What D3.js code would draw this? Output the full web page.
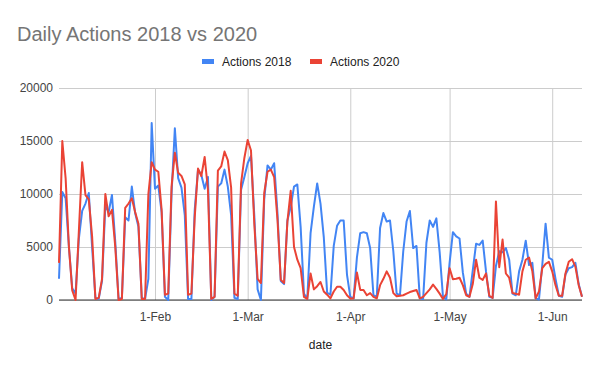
<!DOCTYPE html>
<html>
<head>
<meta charset="utf-8">
<script src="https://cdn.jsdelivr.net/npm/d3@7"></script>
<style>
  body { margin: 0; background: #fff; }
  svg text { font-family: "Liberation Sans", Arial, sans-serif; }
</style>
</head>
<body>
<div id="wrap"></div>
<script>
var startDay = new Date(Date.UTC(2018, 0, 3));
var endDay = new Date(Date.UTC(2018, 5, 11));
var dates = d3.utcDay.range(startDay, endDay);

var actions2018 = [
  2000, 10200, 9600, 5000, 1100, 600,
  5800, 8400, 9100, 10100, 5000, 200, 100,
  1800, 8900, 8300, 9900, 5500, 100, 200,
  7800, 7500, 10700, 8200, 6900, 200, 100,
  2000, 16700, 10500, 10800, 8300, 300, 0,
  10000, 16200, 11500, 10600, 8000, 100, 100,
  8500, 12300, 11800, 10500, 11600, 0, 300,
  10700, 11000, 12300, 10700, 8000, 200, 100,
  10400, 11600, 12900, 13600, 8000, 1000, 0,
  9500, 12700, 12300, 12900, 8200, 1800, 1500,
  7500, 8800, 10700, 10900, 6900, 600, 100,
  6300, 8800, 11000, 9100, 5900, 700, 500,
  5100, 7000, 7500, 7500, 2400, 300, 150,
  4000, 6300, 6400, 6300, 4900, 450, 300,
  6800, 8200, 7400, 7500, 4600, 600, 450,
  4600, 7400, 8400, 4900, 5100, 150, 100,
  5400, 7500, 6900, 7700, 4500, 300, 50,
  3500, 6400, 6000, 5800, 2600, 600, 300,
  2800, 5300, 5200, 5600, 2700, 300, 200,
  3200, 4600, 4500, 4900, 3800, 600, 450,
  2700, 3800, 5600, 3300, 3500, 150, 50,
  3300, 7200, 4000, 3800, 2000, 400, 300,
  2400, 3000, 3100, 3500, 1500, 300
];

var actions2020 = [
  3500, 15000, 11500, 5000, 900, 0,
  6500, 13000, 9900, 9500, 6000, 100, 200,
  2000, 10000, 7900, 8500, 5000, 0, 100,
  8700, 9100, 9600, 8300, 7200, 100, 100,
  10000, 13000, 12300, 12100, 8500, 500, 600,
  10700, 13900, 12000, 11700, 10900, 500, 600,
  7800, 12400, 11700, 13500, 10400, 100, 300,
  12200, 12600, 14000, 13200, 10600, 600, 400,
  11000, 13400, 15100, 14100, 7200, 2000, 1600,
  10100, 12100, 12300, 11600, 7600, 1900, 1600,
  7400, 10300, 5000, 3800, 3000, 300, 100,
  2500, 1000, 1300, 1700, 800, 500, 150,
  800, 1250, 1250, 950, 450, 150, 150,
  2600, 950, 950, 450, 650, 300, 150,
  1400, 2000, 2700, 2100, 650, 350, 400,
  450, 600, 750, 850, 950, 150, 300,
  650, 1000, 1450, 1050, 600, 100, 550,
  3000, 1950, 2000, 2100, 1400, 450, 300,
  1500, 3800, 2100, 1900, 2500, 400, 200,
  9300, 3100, 5700, 2500, 2100, 650, 600,
  500, 2700, 3800, 4000, 2700, 150, 800,
  3000, 3400, 3600, 2700, 1400, 400, 400,
  2500, 3600, 3850, 3150, 1400, 300
];

var seriesNames = ["Actions 2018", "Actions 2020"];
var seriesColors = ["#4285f4", "#ea4335"];
var yTicks = [0, 5000, 10000, 15000, 20000];

var width = 600, height = 371;
var plotLeft = 59, plotRight = 582, plotTop = 88, plotBottom = 300;

var svg = d3.select('#wrap')
  .append('svg')
  .attr("width", width)
  .attr("height", height);

var x = d3.scaleUtc()
  .domain([dates[0], dates[dates.length - 1]])
  .range([plotLeft, plotRight]);

var y = d3.scaleLinear()
  .domain([0, 20000])
  .range([plotBottom, plotTop]);

// horizontal grid + y labels
var yAxis = svg.append("g")
  .attr("transform", "translate(" + plotLeft + ",0)")
  .call(d3.axisLeft(y).tickValues(yTicks).tickSize(-(plotRight - plotLeft)).tickPadding(6).tickFormat(d3.format("d")));
yAxis.select(".domain").remove();
yAxis.selectAll(".tick line").attr("stroke", "#cccccc");
yAxis.selectAll(".tick text").attr("fill", "#444444").style("font-size", "12px");

// vertical grid + x labels
var xAxis = svg.append("g")
  .attr("transform", "translate(0," + plotBottom + ")")
  .call(d3.axisBottom(x).ticks(d3.utcMonth.every(1)).tickSize(-(plotBottom - plotTop)).tickPadding(12).tickFormat(d3.utcFormat("%-d-%b")));
xAxis.select(".domain").remove();
xAxis.selectAll(".tick line").attr("stroke", "#cccccc");
xAxis.selectAll(".tick text").attr("fill", "#444444").style("font-size", "12px");

// baseline
svg.append("line")
  .attr("x1", plotLeft).attr("x2", plotRight)
  .attr("y1", y(0)).attr("y2", y(0))
  .attr("stroke", "#333333")
  .attr("stroke-width", 1);

var line = d3.line()
  .x(function (d, i) { return x(dates[i]); })
  .y(function (d) { return y(d); });

[actions2018, actions2020].forEach(function (vals, k) {
  svg.append("path")
    .datum(vals)
    .attr("fill", "none")
    .attr("stroke", seriesColors[k])
    .attr("stroke-width", 2)
    .attr("stroke-linejoin", "round")
    .attr("d", line);
});

// title
svg.append("text")
  .attr("x", 17)
  .attr("y", 41)
  .attr("fill", "#757575")
  .style("font-size", "20px")
  .text("Daily Actions 2018 vs 2020");

// legend
var legendX = [202, 310];
seriesNames.forEach(function (name, k) {
  svg.append("rect")
    .attr("x", legendX[k]).attr("y", 59)
    .attr("width", 12).attr("height", 5)
    .attr("fill", seriesColors[k]);
  svg.append("text")
    .attr("x", legendX[k] + 20)
    .attr("y", 66)
    .attr("fill", "#222222")
    .style("font-size", "12px")
    .text(name);
});

// x axis title
svg.append("text")
  .attr("x", (plotLeft + plotRight) / 2)
  .attr("y", 349)
  .attr("text-anchor", "middle")
  .attr("fill", "#222222")
  .style("font-size", "12px")
  .text("date");
</script>
</body>
</html>
